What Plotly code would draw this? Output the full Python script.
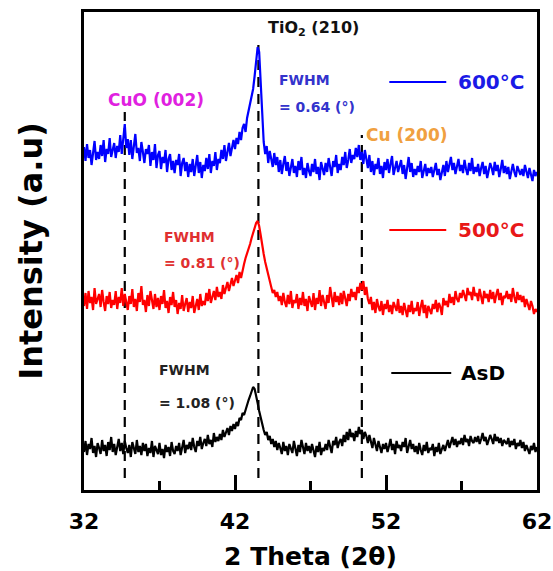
import plotly.graph_objects as go

# 2-theta scan grid (degrees), 0.1 deg step from 32 to 62
TWO_THETA = [round(32 + 0.1 * i, 1) for i in range(301)]

# Stacked XRD intensities (arbitrary units, already offset for stacking);
# one row per degree of 2-theta
I_600C = [
    343, 329, 346, 332, 340, 325, 337, 349, 330, 338,
    331, 345, 334, 350, 328, 341, 336, 352, 333, 340,
    347, 332, 344, 338, 355, 336, 349, 366, 342, 351,
    335, 350, 331, 344, 356, 337, 342, 329, 348, 338,
    327, 341, 336, 345, 324, 338, 330, 346, 322, 335,
    339, 321, 333, 327, 340, 318, 331, 336, 320, 329,
    317, 330, 325, 336, 314, 327, 332, 319, 328, 313,
    326, 318, 331, 314, 323, 335, 317, 328, 312, 325,
    319, 332, 321, 336, 317, 329, 324, 338, 320, 331,
    327, 340, 331, 345, 329, 338, 347, 334, 343, 350,
    341, 352, 346, 358, 350, 362, 366, 358, 372, 380,
    386, 392, 401, 414, 430, 443, 438, 410, 372, 348,
    336, 344, 327, 339, 331, 323, 337, 325, 333, 318,
    330, 316, 326, 334, 319, 328, 314, 325, 331, 317,
    324, 313, 329, 320, 333, 315, 322, 312, 327, 319,
    314, 326, 318, 331, 316, 323, 310, 328, 320, 315,
    327, 318, 332, 321, 314, 329, 323, 335, 317, 326,
    320, 333, 325, 338, 322, 330, 341, 327, 335, 331,
    342, 333, 345, 330, 338, 326, 340, 331, 322, 335,
    318, 329, 315, 326, 321, 332, 316, 324, 312, 328,
    320, 331, 317, 326, 334, 315, 323, 329, 318, 325,
    330, 316, 325, 311, 322, 333, 318, 327, 313, 321,
    315, 324, 318, 329, 312, 320, 326, 314, 322, 317,
    323, 313, 319, 327, 315, 321, 310, 318, 325, 314,
    329, 318, 326, 333, 320, 327, 316, 324, 331, 319,
    325, 317, 330, 321, 315, 327, 319, 332, 316, 323,
    318, 326, 314, 322, 328, 316, 324, 312, 320, 327,
    322, 315, 328, 319, 325, 313, 321, 330, 317, 324,
    316, 323, 311, 320, 326, 318, 313, 324, 319, 315,
    321, 314, 325, 317, 312, 322, 316, 309, 320, 314,
    318,
]

I_500C = [
    184, 197, 181, 199, 187, 193, 180, 202, 186, 191,
    196, 183, 200, 188, 179, 194, 186, 198, 182, 190,
    185, 199, 181, 193, 187, 202, 184, 196, 189, 180,
    194, 186, 201, 183, 191, 179, 197, 188, 204, 185,
    190, 178, 195, 184, 199, 187, 181, 196, 183, 192,
    180, 194, 186, 200, 182, 189, 177, 193, 185, 198,
    183, 190, 176, 187, 181, 195, 179, 186, 192, 178,
    188, 182, 194, 177, 186, 191, 180, 196, 184, 189,
    185, 197, 189, 201, 187, 194, 199, 190, 203, 193,
    198, 191, 205, 196, 202, 208, 199, 206, 212, 204,
    209, 215, 207, 218, 212, 221, 226, 232, 236, 241,
    246, 252, 258, 263, 267, 269, 264, 255, 244, 236,
    228, 221, 214, 208, 203, 197, 200, 193, 198, 189,
    194, 185, 197, 188, 183, 195, 186, 199, 182, 190,
    187, 196, 181, 192, 185, 198, 184, 191, 179, 194,
    188, 183, 197, 180, 192, 186, 200, 184, 195, 189,
    181, 195, 187, 203, 190, 183, 198, 188, 194, 185,
    197, 186, 199, 191, 184, 196, 189, 201, 193, 198,
    190, 203, 197, 207, 200, 209, 195, 203, 191, 186,
    193, 180, 188, 177, 191, 183, 179, 189, 175, 186,
    181, 190, 178, 185, 176, 188, 182, 179, 191, 177,
    184, 175, 187, 180, 173, 185, 178, 189, 176, 182,
    179, 188, 174, 183, 190, 177, 185, 172, 184, 180,
    176, 186, 181, 190, 178, 187, 183, 175, 192, 185,
    189, 183, 196, 187, 193, 185, 199, 191, 188, 197,
    192, 200, 194, 189, 202, 195, 198, 190, 203, 194,
    197, 189, 201, 193, 186, 199, 192, 196, 188, 200,
    191, 198, 187, 195, 201, 190, 197, 185, 194, 192,
    199, 191, 196, 188, 202, 193, 187, 198, 190, 195,
    188, 194, 183, 191, 186, 180, 189, 184, 176, 181,
    178,
]

I_ASD = [
    38, 49, 35, 46, 41, 52, 37, 44, 33, 47,
    42, 36, 50, 39, 45, 34, 48, 40, 53, 38,
    46, 35, 43, 51, 39, 47, 36, 49, 42, 37,
    45, 33, 48, 40, 36, 50, 38, 44, 35, 47,
    39, 46, 34, 42, 37, 49, 33, 44, 40, 36,
    47, 35, 41, 32, 45, 38, 43, 34, 48, 39,
    36, 44, 39, 47, 35, 42, 50, 37, 45, 41,
    48, 40, 52, 43, 38, 49, 44, 53, 41, 47,
    51, 44, 55, 46, 50, 43, 57, 48, 53, 49,
    56, 50, 60, 53, 58, 62, 55, 64, 59, 66,
    61, 68, 64, 72, 70, 77, 75, 81, 86, 90,
    94, 99, 103, 101, 95, 87, 79, 72, 66, 60,
    55, 58, 50, 54, 46, 51, 43, 49, 40, 47,
    42, 36, 48, 39, 44, 35, 46, 40, 37, 49,
    41, 34, 45, 38, 50, 43, 36, 47, 39, 44,
    37, 46, 40, 33, 44, 38, 48, 35, 42, 39,
    46, 40, 50, 43, 37, 49, 45, 53, 42, 48,
    51, 44, 55, 48, 58, 50, 61, 53, 57, 49,
    59, 53, 63, 56, 60, 51, 58, 54, 47, 55,
    48, 42, 52, 45, 39, 49, 43, 37, 46, 41,
    47, 38, 44, 51, 40, 46, 36, 49, 42, 45,
    39, 48, 43, 52, 37, 45, 50, 41, 46, 38,
    44, 36, 47, 40, 35, 45, 39, 48, 37, 42,
    40, 46, 34, 43, 38, 47, 36, 41, 45, 39,
    44, 50, 42, 48, 53, 45, 51, 43, 49, 46,
    52, 45, 55, 48, 51, 44, 54, 49, 47, 53,
    48, 54, 46, 51, 57, 49, 53, 45, 50, 55,
    51, 46, 56, 49, 53, 47, 52, 44, 50, 48,
    46, 52, 43, 49, 45, 51, 41, 47, 44, 50,
    42, 48, 39, 45, 41, 36, 44, 40, 47, 38,
    43,
]

SERIES_NAMES = ["600°C", "500°C", "AsD"]
SERIES_COLORS = ["#0000ff", "#ff0000", "#000000"]

# Reference reflections: label, 2-theta position, top of marker line
PEAK_LABELS = ["CuO (002)", "TiO<sub>2</sub> (210)", "Cu (200)"]
PEAK_POS = [34.7, 43.55, 50.4]
PEAK_TOP = [378, 445, 355]

FWHM_VALUES = ["0.64", "0.81", "1.08"]

FONT = "DejaVu Sans"

fig = go.Figure()

for name, color, ys in zip(SERIES_NAMES, SERIES_COLORS, [I_600C, I_500C, I_ASD]):
    fig.add_trace(go.Scatter(
        x=TWO_THETA, y=ys, mode="lines", name=name,
        line=dict(color=color, width=2.2),
        showlegend=False,
    ))

# dashed reflection markers
for pos, top in zip(PEAK_POS, PEAK_TOP):
    fig.add_shape(type="line", xref="x", yref="y", x0=pos, x1=pos, y0=12, y1=top,
                  line=dict(color="black", width=2.2, dash="10px,7px"), layer="below")

# reflection labels
fig.add_annotation(x=36.76, y=390, text="<b>" + PEAK_LABELS[0] + "</b>", showarrow=False,
                   font=dict(family=FONT, size=17, color="#e020e0"), xanchor="center", yanchor="middle")
fig.add_annotation(x=47.2, y=462, text="<b>" + PEAK_LABELS[1] + "</b>", showarrow=False,
                   font=dict(family=FONT, size=16, color="#111111"), xanchor="center", yanchor="middle")
fig.add_annotation(x=50.57, y=355, text="<b>" + PEAK_LABELS[2] + "</b>", showarrow=False,
                   font=dict(family=FONT, size=17, color="#f0a040"), xanchor="left", yanchor="middle")

# FWHM notes
fwhm_pos = [(44.75, 410, 383, "#3333cc"), (37.15, 253, 227, "#e03030"), (36.82, 120, 87, "#222222")]
for val, (xx, y1, y2, col) in zip(FWHM_VALUES, fwhm_pos):
    fig.add_annotation(x=xx, y=y1, text="<b>FWHM</b>", showarrow=False,
                       font=dict(family=FONT, size=14, color=col), xanchor="left", yanchor="middle")
    fig.add_annotation(x=xx, y=y2, text="<b>= " + val + " (°)</b>", showarrow=False,
                       font=dict(family=FONT, size=14, color=col), xanchor="left", yanchor="middle")

# in-plot key
key_rows = [(52.22, 55.99, 408, 56.65, "#1a1ae6"), (52.22, 55.99, 260, 56.65, "#e81818"),
            (52.35, 56.32, 117, 56.85, "#000000")]
for name, color, (xa, xb, yy, xt, tcol) in zip(SERIES_NAMES, SERIES_COLORS, key_rows):
    fig.add_shape(type="line", xref="x", yref="y", x0=xa, x1=xb, y0=yy, y1=yy,
                  line=dict(color=color, width=2))
    fig.add_annotation(x=xt, y=yy, text="<b>" + name + "</b>", showarrow=False,
                       font=dict(family=FONT, size=20, color=tcol), xanchor="left", yanchor="middle")

fig.update_layout(
    width=553, height=571,
    margin=dict(l=84, r=16, t=12, b=81),
    paper_bgcolor="white", plot_bgcolor="white",
    font=dict(family=FONT, color="black"),
    xaxis=dict(
        range=[32, 62], tickvals=[32, 42, 52, 62], ticktext=["<b>32</b>", "<b>42</b>", "<b>52</b>", "<b>62</b>"],
        ticks="inside", ticklen=15, tickwidth=2.5, tickcolor="black",
        minor=dict(tickvals=[37, 47, 57], ticks="inside", ticklen=9, tickwidth=2.5, tickcolor="black"),
        tickfont=dict(family=FONT, size=22, color="black"), ticklabelstandoff=10,
        ticklabeloverflow="allow", automargin=False,
        showline=True, linewidth=2.5, linecolor="black", mirror=True,
        showgrid=False, zeroline=False,
        title=dict(text="<b>2 Theta (2θ)</b>", font=dict(family=FONT, size=25, color="black"), standoff=15),
    ),
    yaxis=dict(
        range=[0, 478], showticklabels=False, ticks="", automargin=False,
        showline=True, linewidth=2.5, linecolor="black", mirror=True,
        showgrid=False, zeroline=False,
        title=dict(text="<b>Intensity (a.u)</b>", font=dict(family=FONT, size=32, color="black"), standoff=30),
    ),
)

fig.write_html("out.html")
